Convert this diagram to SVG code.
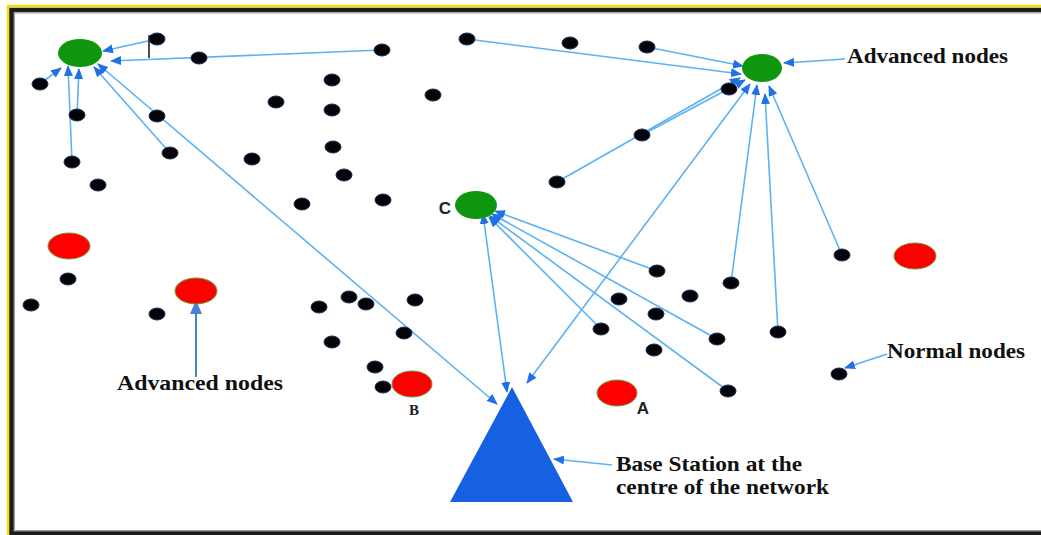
<svg xmlns="http://www.w3.org/2000/svg" width="1041" height="535" viewBox="0 0 1041 535">
<style>
.n{fill:#030308;stroke:#1b2f55;stroke-width:1}
.r{fill:#ff0000;stroke:#6f9a3a;stroke-width:1}
.g{fill:#0f960f}
.c{fill:none;stroke:#5cb2f2;stroke-width:1.6}
.lbl{font-family:"Liberation Serif","Times New Roman",serif;font-weight:bold;font-size:21px;fill:#111}
.ltr{font-family:"Liberation Sans",Arial,sans-serif;font-weight:bold;font-size:17px;fill:#222;text-anchor:middle}
</style>
<defs>
<marker id="ah" markerUnits="userSpaceOnUse" markerWidth="11" markerHeight="9" refX="10" refY="4.5" orient="auto-start-reverse">
<path d="M0,0 L11,4.5 L0,9 z" fill="#2070e6"/>
</marker>
<marker id="ah2" markerUnits="userSpaceOnUse" markerWidth="14" markerHeight="12" refX="13" refY="6" orient="auto">
<path d="M0,0 L14,6 L0,12 z" fill="#4a7fd6"/>
</marker>
</defs>
<rect x="0" y="0" width="1041" height="535" fill="#ffffff"/>
<path d="M8,535 V6 H1041" fill="none" stroke="#f2e200" stroke-width="2.5"/>
<rect x="11.5" y="10" width="1040" height="523.5" fill="#ffffff" stroke="#1c1c1c" stroke-width="4.5"/>
<path d="M14.5,530 V13 H1041 M14.5,530.5 H1041" fill="none" stroke="#9a9a9a" stroke-width="1"/>

<g id="connectors">
<path class="c" d="M157,39 L103,51" marker-end="url(#ah)"/>
<path d="M149,58 V36 H157" fill="none" stroke="#111" stroke-width="1.5"/>
<path class="c" d="M382,50 L111,61" marker-end="url(#ah)"/>
<path class="c" d="M40,84 L61,68" marker-end="url(#ah)"/>
<path class="c" d="M72,162 L68,66" marker-end="url(#ah)"/>
<path class="c" d="M77,115 L79,69" marker-end="url(#ah)"/>
<path class="c" d="M170,153 L94,67" marker-end="url(#ah)"/>
<path class="c" d="M98,64 L497,404" marker-start="url(#ah)" marker-end="url(#ah)"/>
<path class="c" d="M467,39 L741,74" marker-end="url(#ah)"/>
<path class="c" d="M647,47 L743,66" marker-end="url(#ah)"/>
<path class="c" d="M557,182 L740,78" marker-end="url(#ah)"/>
<path class="c" d="M642,135 L745,80" marker-end="url(#ah)"/>
<path class="c" d="M527,383 L750,84" marker-start="url(#ah)" marker-end="url(#ah)"/>
<path class="c" d="M731,283 L757,85" marker-end="url(#ah)"/>
<path class="c" d="M778,332 L765,94" marker-end="url(#ah)"/>
<path class="c" d="M842,255 L769,86" marker-end="url(#ah)"/>
<path class="c" d="M845,59 L784,63" marker-end="url(#ah)"/>
<path class="c" d="M507,392 L483,214" marker-start="url(#ah)" marker-end="url(#ah)"/>
<path class="c" d="M657,271 L495,211" marker-end="url(#ah)"/>
<path class="c" d="M601,329 L489,217" marker-end="url(#ah)"/>
<path class="c" d="M717,339 L492,214" marker-end="url(#ah)"/>
<path class="c" d="M728,391 L490,216" marker-end="url(#ah)"/>
<path d="M196,377 L196,301" fill="none" stroke="#4a7fd6" stroke-width="2" marker-end="url(#ah2)"/>
<path class="c" d="M887,354 L845,368" marker-end="url(#ah)"/>
<path class="c" d="M612,465 L554,459" marker-end="url(#ah)"/>
</g>

<g id="base-station"><polygon points="512,387 450,502 573,502" fill="#1660e2"/></g>

<g id="adv-green-tl"><ellipse class="g" cx="80" cy="53" rx="22" ry="14"/></g>
<g id="adv-green-tr"><ellipse class="g" cx="762" cy="68" rx="20" ry="14"/></g>
<g id="adv-green-c"><ellipse class="g" cx="476" cy="205" rx="21" ry="14"/></g>

<g id="adv-red-1"><ellipse class="r" cx="69" cy="246" rx="21" ry="13"/></g>
<g id="adv-red-2"><ellipse class="r" cx="196" cy="291" rx="21" ry="13"/></g>
<g id="adv-red-b"><ellipse class="r" cx="412" cy="384" rx="20" ry="13"/></g>
<g id="adv-red-a"><ellipse class="r" cx="617" cy="393" rx="20" ry="13"/></g>
<g id="adv-red-3"><ellipse class="r" cx="915" cy="256" rx="21" ry="13"/></g>

<g id="n1"><ellipse class="n" cx="157" cy="39" rx="8" ry="6"/></g>
<g id="n2"><ellipse class="n" cx="199" cy="58" rx="8" ry="6"/></g>
<g id="n3"><ellipse class="n" cx="382" cy="50" rx="8" ry="6"/></g>
<g id="n4"><ellipse class="n" cx="467" cy="39" rx="8" ry="6"/></g>
<g id="n5"><ellipse class="n" cx="570" cy="43" rx="8" ry="6"/></g>
<g id="n6"><ellipse class="n" cx="647" cy="47" rx="8" ry="6"/></g>
<g id="n7"><ellipse class="n" cx="40" cy="84" rx="8" ry="6"/></g>
<g id="n8"><ellipse class="n" cx="77" cy="115" rx="8" ry="6"/></g>
<g id="n9"><ellipse class="n" cx="157" cy="116" rx="8" ry="6"/></g>
<g id="n10"><ellipse class="n" cx="170" cy="153" rx="8" ry="6"/></g>
<g id="n11"><ellipse class="n" cx="72" cy="162" rx="8" ry="6"/></g>
<g id="n12"><ellipse class="n" cx="98" cy="185" rx="8" ry="6"/></g>
<g id="n13"><ellipse class="n" cx="276" cy="102" rx="8" ry="6"/></g>
<g id="n14"><ellipse class="n" cx="332" cy="80" rx="8" ry="6"/></g>
<g id="n15"><ellipse class="n" cx="332" cy="110" rx="8" ry="6"/></g>
<g id="n16"><ellipse class="n" cx="333" cy="147" rx="8" ry="6"/></g>
<g id="n17"><ellipse class="n" cx="344" cy="175" rx="8" ry="6"/></g>
<g id="n18"><ellipse class="n" cx="252" cy="159" rx="8" ry="6"/></g>
<g id="n19"><ellipse class="n" cx="302" cy="204" rx="8" ry="6"/></g>
<g id="n20"><ellipse class="n" cx="383" cy="200" rx="8" ry="6"/></g>
<g id="n21"><ellipse class="n" cx="433" cy="95" rx="8" ry="6"/></g>
<g id="n22"><ellipse class="n" cx="642" cy="135" rx="8" ry="6"/></g>
<g id="n23"><ellipse class="n" cx="557" cy="182" rx="8" ry="6"/></g>
<g id="n24"><ellipse class="n" cx="729" cy="89" rx="8" ry="6"/></g>
<g id="n25"><ellipse class="n" cx="68" cy="279" rx="8" ry="6"/></g>
<g id="n26"><ellipse class="n" cx="31" cy="305" rx="8" ry="6"/></g>
<g id="n27"><ellipse class="n" cx="157" cy="314" rx="8" ry="6"/></g>
<g id="n28"><ellipse class="n" cx="319" cy="307" rx="8" ry="6"/></g>
<g id="n29"><ellipse class="n" cx="349" cy="297" rx="8" ry="6"/></g>
<g id="n30"><ellipse class="n" cx="366" cy="304" rx="8" ry="6"/></g>
<g id="n31"><ellipse class="n" cx="415" cy="300" rx="8" ry="6"/></g>
<g id="n32"><ellipse class="n" cx="404" cy="333" rx="8" ry="6"/></g>
<g id="n33"><ellipse class="n" cx="332" cy="342" rx="8" ry="6"/></g>
<g id="n34"><ellipse class="n" cx="375" cy="367" rx="8" ry="6"/></g>
<g id="n35"><ellipse class="n" cx="383" cy="387" rx="8" ry="6"/></g>
<g id="n36"><ellipse class="n" cx="657" cy="271" rx="8" ry="6"/></g>
<g id="n37"><ellipse class="n" cx="619" cy="299" rx="8" ry="6"/></g>
<g id="n38"><ellipse class="n" cx="690" cy="296" rx="8" ry="6"/></g>
<g id="n39"><ellipse class="n" cx="656" cy="314" rx="8" ry="6"/></g>
<g id="n40"><ellipse class="n" cx="601" cy="329" rx="8" ry="6"/></g>
<g id="n41"><ellipse class="n" cx="654" cy="350" rx="8" ry="6"/></g>
<g id="n42"><ellipse class="n" cx="842" cy="255" rx="8" ry="6"/></g>
<g id="n43"><ellipse class="n" cx="731" cy="283" rx="8" ry="6"/></g>
<g id="n44"><ellipse class="n" cx="778" cy="332" rx="8" ry="6"/></g>
<g id="n45"><ellipse class="n" cx="717" cy="339" rx="8" ry="6"/></g>
<g id="n46"><ellipse class="n" cx="839" cy="374" rx="8" ry="6"/></g>
<g id="n47"><ellipse class="n" cx="728" cy="391" rx="8" ry="6"/></g>

<g id="labels">
<text class="lbl" x="847" y="63" textLength="161" lengthAdjust="spacingAndGlyphs">Advanced nodes</text>
<text class="lbl" x="117" y="390" textLength="166" lengthAdjust="spacingAndGlyphs">Advanced nodes</text>
<text class="lbl" x="887" y="358" textLength="138" lengthAdjust="spacingAndGlyphs">Normal nodes</text>
<text class="lbl" x="616" y="471" textLength="186" lengthAdjust="spacingAndGlyphs">Base Station at the</text>
<text class="lbl" x="616" y="494" textLength="213" lengthAdjust="spacingAndGlyphs">centre of the network</text>
<text class="ltr" x="445" y="214">C</text>
<text class="ltr" x="414" y="415" style="font-family:'Liberation Serif','Times New Roman',serif;font-size:15px">B</text>
<text class="ltr" x="643" y="414">A</text>
</g>
</svg>
